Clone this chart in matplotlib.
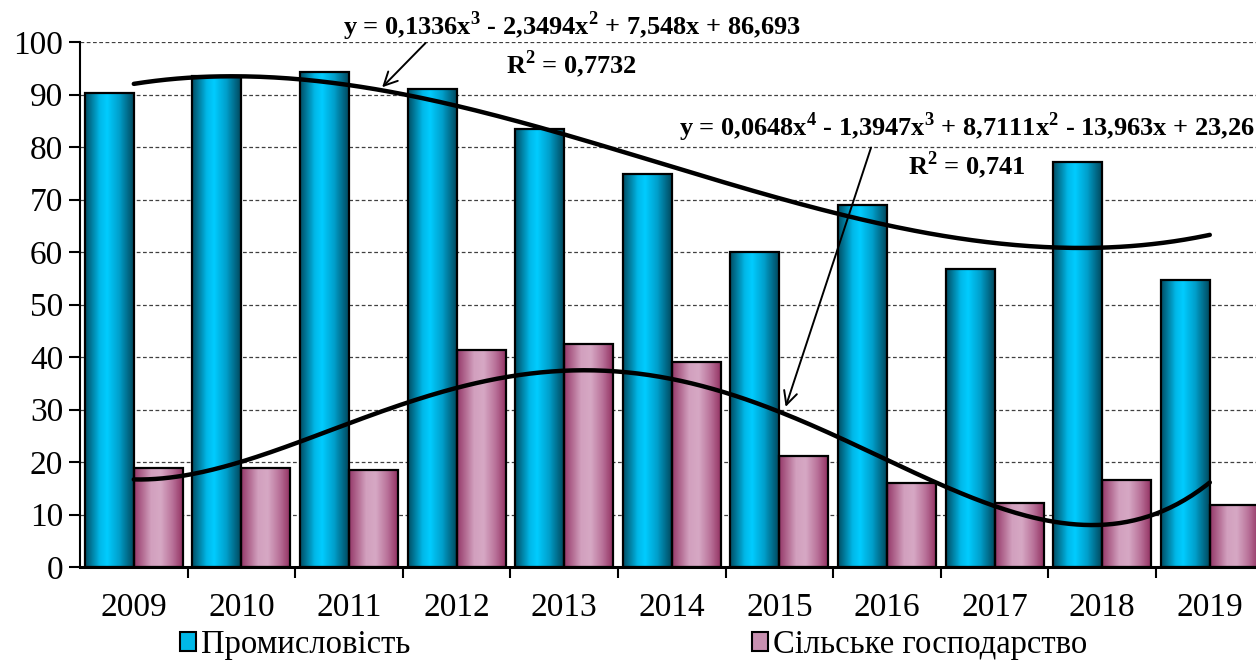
import numpy as np
import matplotlib
matplotlib.use('Agg')
import matplotlib.pyplot as plt
from matplotlib.colors import LinearSegmentedColormap
from matplotlib.patches import Rectangle

# data
years = ['2009', '2010', '2011', '2012', '2013', '2014', '2015', '2016', '2017', '2018', '2019']
industry = [90.2, 93.6, 94.2, 91.0, 83.5, 74.8, 60.0, 68.9, 56.8, 77.2, 54.6]
agriculture = [18.8, 18.8, 18.4, 41.3, 42.4, 39.0, 21.2, 16.0, 12.1, 16.5, 11.8]
series_names = ['Промисловість', 'Сільське господарство']

# trendline coefficients as printed on the chart (x = 1..11)
industry_trend = [0.1336, -2.3494, 7.548, 86.693]
agriculture_trend = [0.0648, -1.3947, 8.7111, -13.963, 23.26]
eq_industry = 'y = 0,1336x$^\\mathbf{3}$ - 2,3494x$^\\mathbf{2}$ + 7,548x + 86,693'
r2_industry = 'R$^\\mathbf{2}$ = 0,7732'
eq_agri = 'y = 0,0648x$^\\mathbf{4}$ - 1,3947x$^\\mathbf{3}$ + 8,7111x$^\\mathbf{2}$ - 13,963x + 23,26'
r2_agri = 'R$^\\mathbf{2}$ = 0,741'

plt.rcParams['font.family'] = ['Liberation Serif', 'DejaVu Serif']
plt.rcParams['mathtext.fontset'] = 'custom'
plt.rcParams['mathtext.rm'] = 'Liberation Serif'
plt.rcParams['mathtext.bf'] = 'Liberation Serif:bold'

blue_cmap = LinearSegmentedColormap.from_list(
    'blue', [(0, '#004f66'), (0.3, '#00b8e8'), (0.45, '#00ccff'), (0.7, '#00a0cc'), (1, '#004a60')])
pink_cmap = LinearSegmentedColormap.from_list(
    'pink', [(0, '#963a6a'), (0.35, '#d2a0be'), (0.55, '#d6a8c4'), (0.8, '#b87098'), (1, '#943464')])

fig = plt.figure(figsize=(12.56, 6.61), dpi=100)
ax = fig.add_axes([80 / 1256, 1 - 567 / 661, 11 * 107.6 / 1256, 525 / 661])

x = np.arange(1, len(years) + 1)
w = 0.455
bars1 = ax.bar(x - w / 2, industry, w, facecolor='none', edgecolor='black', linewidth=1.6, zorder=3)
bars2 = ax.bar(x + w / 2, agriculture, w, facecolor='none', edgecolor='black', linewidth=1.6, zorder=3)

grad = np.linspace(0, 1, 64).reshape(1, -1)
for bars, cmap in ((bars1, blue_cmap), (bars2, pink_cmap)):
    for b in bars:
        x0, h, bw = b.get_x(), b.get_height(), b.get_width()
        ax.imshow(grad, cmap=cmap, extent=[x0, x0 + bw, 0, h], aspect='auto',
                  interpolation='bilinear', zorder=2)

# polynomial trendlines
xs = np.linspace(1, 11, 300)
ax.plot(xs, np.polyval(industry_trend, xs), color='black', lw=3.2, zorder=4,
        solid_capstyle='round')
ax.plot(xs, np.polyval(agriculture_trend, xs), color='black', lw=3.2, zorder=4,
        solid_capstyle='round')

ax.set_xlim(0.5, 11.5)
ax.set_ylim(0, 100)
ax.set_yticks(np.arange(0, 101, 10))
ax.set_xticks(x)
ax.set_xticklabels(years)
ax.set_xticks(np.arange(1.5, 11.5, 1), minor=True)
ax.tick_params(axis='x', which='major', length=0, labelsize=24, pad=18)
ax.tick_params(axis='x', which='minor', length=8, width=1.5, direction='out')
ax.tick_params(axis='y', length=8, width=1.5, labelsize=24, pad=4)

ax.grid(axis='y', linestyle=(0, (3, 2)), color='#404040', linewidth=0.9)
ax.set_axisbelow(True)
for s in ('top', 'right'):
    ax.spines[s].set_visible(False)
ax.spines['left'].set_linewidth(1.5)
ax.spines['bottom'].set_linewidth(2.2)

# equations and arrows
tkw = dict(ha='center', va='baseline', fontsize=19, fontweight='bold', zorder=5)
ax.text(5.07, 101.3, eq_industry, **tkw)
ax.text(5.07, 94.1, r2_industry, **tkw)
ax.annotate('', xy=(3.29, 91.0), xytext=(3.73, 100.2),
            arrowprops=dict(arrowstyle='->', color='black', lw=1.4, mutation_scale=24), zorder=5)
ax.text(8.74, 82.1, eq_agri, **tkw)
ax.text(8.74, 74.9, r2_agri, **tkw)
ax.annotate('', xy=(7.05, 30.0), xytext=(7.86, 80.4),
            arrowprops=dict(arrowstyle='->', color='black', lw=1.4, mutation_scale=24), zorder=5)

handles = [Rectangle((0, 0), 1, 1, facecolor='#00b8e8', edgecolor='black', lw=1.5),
           Rectangle((0, 0), 1, 1, facecolor='#c890b0', edgecolor='black', lw=1.5)]
fig.legend(handles, series_names, ncol=2, loc='lower left', bbox_to_anchor=(157 / 1256, -0.033),
           frameon=False, fontsize=23.5, handlelength=0.5, handleheight=0.55, handletextpad=0.15,
           columnspacing=10.45, borderpad=0.2)

fig.savefig('out.png', dpi=100)
